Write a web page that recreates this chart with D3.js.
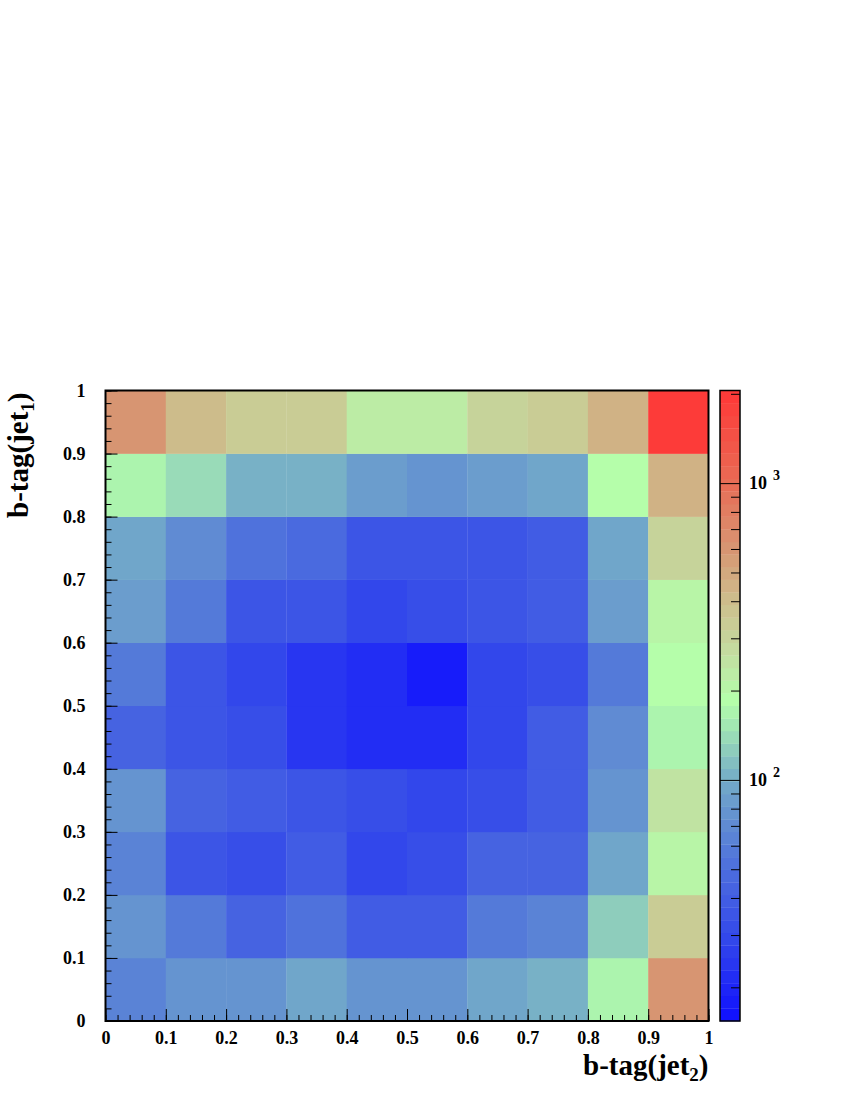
<!DOCTYPE html>
<html>
<head>
<meta charset="utf-8">
<script src="https://cdn.jsdelivr.net/npm/d3@7"></script>
<style>
  html, body { margin: 0; padding: 0; background: #fff; }
  svg { display: block; }
  text { font-family: "Liberation Serif", "Times New Roman", serif; font-weight: bold; fill: #000; }
</style>
</head>
<body>
<svg id="chart" width="850" height="1100"></svg>
<script>
// ---- data ----
const xBins = [0, 0.1, 0.2, 0.3, 0.4, 0.5, 0.6, 0.7, 0.8, 0.9];
const yBins = [0, 0.1, 0.2, 0.3, 0.4, 0.5, 0.6, 0.7, 0.8, 0.9];
// counts per row, row index = y bin (bottom to top), column = x bin
const row0 = [63, 74, 78, 97, 78, 78, 97, 105, 165, 600];
const row1 = [78, 56, 45, 50, 40, 38, 56, 63, 125, 330];
const row2 = [63, 37, 33, 38, 28, 32, 42, 45, 92, 200];
const row3 = [74, 45, 38, 37, 31, 30, 31, 38, 74, 250];
const row4 = [45, 37, 31, 25, 22, 22, 28, 38, 70, 165];
const row5 = [60, 37, 28, 25, 21, 18, 28, 31, 58, 190];
const row6 = [85, 60, 37, 35, 28, 31, 35, 40, 85, 200];
const row7 = [93, 67, 50, 48, 37, 37, 37, 40, 90, 300];
const row8 = [165, 135, 99, 99, 85, 78, 85, 93, 190, 440];
const row9 = [600, 400, 320, 340, 225, 225, 300, 340, 470, 1950];
const rows = [row0, row1, row2, row3, row4, row5, row6, row7, row8, row9];
const xTicks = [0, 0.1, 0.2, 0.3, 0.4, 0.5, 0.6, 0.7, 0.8, 0.9, 1];
const yTicks = [0, 0.1, 0.2, 0.3, 0.4, 0.5, 0.6, 0.7, 0.8, 0.9, 1];
const zMin = 15.4, zMax = 2052;
const zMajor = [100, 1000];
const zMinor = [20, 30, 40, 50, 60, 70, 80, 90, 200, 300, 400, 500, 600, 700, 800, 900, 2000];
const xTitle = "b-tag(jet", xSub = "2";
const yTitle = "b-tag(jet", ySub = "1";

// palette stops (fraction along log z axis -> colour)
const palStops = [0, 0.128, 0.254, 0.38, 0.444, 0.507, 0.586, 0.666, 0.748, 0.853, 1];
const palColors = ["rgb(15,15,255)", "rgb(50,70,235)", "rgb(80,115,220)", "rgb(115,170,200)",
  "rgb(150,215,185)", "rgb(180,255,170)", "rgb(195,220,160)", "rgb(205,190,140)",
  "rgb(215,150,115)", "rgb(232,108,85)", "rgb(255,55,55)"];
const nBands = 50;

// ---- layout ----
const L = 105.5, R = 708.5, T = 390.5, B = 1021;
const cbL = 720, cbR = 740;

const svg = d3.select("#chart");
const x = d3.scaleLinear().domain([0, 1]).range([L, R]);
const y = d3.scaleLinear().domain([0, 1]).range([B, T]);
const z = d3.scaleLog().domain([zMin, zMax]).range([B, T]);
const fracScale = d3.scaleLog().domain([zMin, zMax]).range([0, 1]).clamp(true);
const palette = d3.scaleLinear().domain(palStops).range(palColors).interpolate(d3.interpolateRgb);
function bandColor(v) {
  let b = Math.floor(fracScale(v) * nBands);
  if (b >= nBands) b = nBands - 1;
  return palette((b + 0.5) / nBands);
}

// ---- cells ----
const cells = [];
rows.forEach((r, j) => r.forEach((v, i) => cells.push({ x0: xBins[i], y0: yBins[j], v })));
svg.append("g").selectAll("rect").data(cells).join("rect")
  .attr("x", d => x(d.x0))
  .attr("y", d => y(d.y0 + 0.1))
  .attr("width", d => x(d.x0 + 0.1) - x(d.x0) + 0.3)
  .attr("height", d => y(d.y0) - y(d.y0 + 0.1) + 0.3)
  .attr("fill", d => bandColor(d.v));

// ---- axes (ticks inside) ----
const xMinorTicks = d3.range(0, 1.0001, 0.02);
const gx = svg.append("g").attr("transform", `translate(0,${B})`);
gx.call(d3.axisTop(x).tickValues(xMinorTicks).tickSize(6).tickFormat(""))
  .call(g => g.select(".domain").remove());
const gx2 = svg.append("g").attr("transform", `translate(0,${B})`);
gx2.call(d3.axisTop(x).tickValues(xTicks).tickSize(12).tickFormat(""))
  .call(g => g.select(".domain").remove());

const gxl = svg.append("g").attr("transform", `translate(0,${B})`);
gxl.call(d3.axisBottom(x).tickValues(xTicks).tickSize(0).tickPadding(10).tickFormat(d3.format("~g")))
  .call(g => g.select(".domain").remove())
  .call(g => g.selectAll("text").attr("font-size", 18).attr("font-family", "Liberation Serif").attr("font-weight", "bold"));

const gy = svg.append("g").attr("transform", `translate(${L},0)`);
gy.call(d3.axisRight(y).tickValues(d3.range(0, 1.0001, 0.02)).tickSize(6).tickFormat(""))
  .call(g => g.select(".domain").remove());
const gy2 = svg.append("g").attr("transform", `translate(${L},0)`);
gy2.call(d3.axisRight(y).tickValues(yTicks).tickSize(12).tickFormat(""))
  .call(g => g.select(".domain").remove());

const gyl = svg.append("g").attr("transform", `translate(${L},0)`);
gyl.call(d3.axisLeft(y).tickValues(yTicks).tickSize(0).tickPadding(20).tickFormat(d3.format("~g")))
  .call(g => g.select(".domain").remove())
  .call(g => g.selectAll("text").attr("font-size", 18).attr("font-family", "Liberation Serif").attr("font-weight", "bold"));

// frame
svg.append("rect").attr("x", L).attr("y", T).attr("width", R - L).attr("height", B - T)
  .attr("fill", "none").attr("stroke", "#000").attr("stroke-width", 2);

// ---- colour bar ----
const bandEdges = d3.range(nBands + 1).map(k => Math.pow(10, Math.log10(zMin) + k / nBands * (Math.log10(zMax) - Math.log10(zMin))));
const bands = d3.range(nBands).map(k => ({ lo: bandEdges[k], hi: bandEdges[k + 1], c: palette((k + 0.5) / nBands) }));
svg.append("g").selectAll("rect").data(bands).join("rect")
  .attr("x", cbL).attr("width", cbR - cbL)
  .attr("y", d => z(d.hi)).attr("height", d => z(d.lo) - z(d.hi) + 0.3)
  .attr("fill", d => d.c);
const gz = svg.append("g").attr("transform", `translate(${cbR},0)`);
gz.call(d3.axisLeft(z).tickValues(zMinor).tickSize(9).tickFormat(""))
  .call(g => g.select(".domain").remove());
const gz2 = svg.append("g").attr("transform", `translate(${cbR},0)`);
gz2.call(d3.axisLeft(z).tickValues(zMajor).tickSize(cbR - cbL).tickFormat(""))
  .call(g => g.select(".domain").remove());
svg.selectAll("g.tick line").attr("stroke", "#000").attr("stroke-width", 1);
svg.append("rect").attr("x", cbL).attr("y", T).attr("width", cbR - cbL).attr("height", B - T)
  .attr("fill", "none").attr("stroke", "#000").attr("stroke-width", 1.5);

const zl = svg.append("g").selectAll("text").data(zMajor).join("text")
  .attr("x", 749).attr("y", d => z(d) + 6).attr("font-size", 18);
zl.append("tspan").text("10");
zl.append("tspan").attr("dx", 6).attr("dy", -9).attr("font-size", 14).text(d => Math.round(Math.log10(d)));

// ---- axis titles ----
const xt = svg.append("text").attr("x", R).attr("y", 1075).attr("text-anchor", "end").attr("font-size", 29);
xt.append("tspan").text(xTitle);
xt.append("tspan").attr("font-size", 19).attr("dy", 6).text(xSub);
xt.append("tspan").attr("dy", -6).text(")");

const yt = svg.append("text").attr("transform", `translate(28,${T + 2}) rotate(-90)`).attr("text-anchor", "end").attr("font-size", 29);
yt.append("tspan").text(yTitle);
yt.append("tspan").attr("font-size", 19).attr("dy", 6).text(ySub);
yt.append("tspan").attr("dy", -6).text(")");
</script>
</body>
</html>
